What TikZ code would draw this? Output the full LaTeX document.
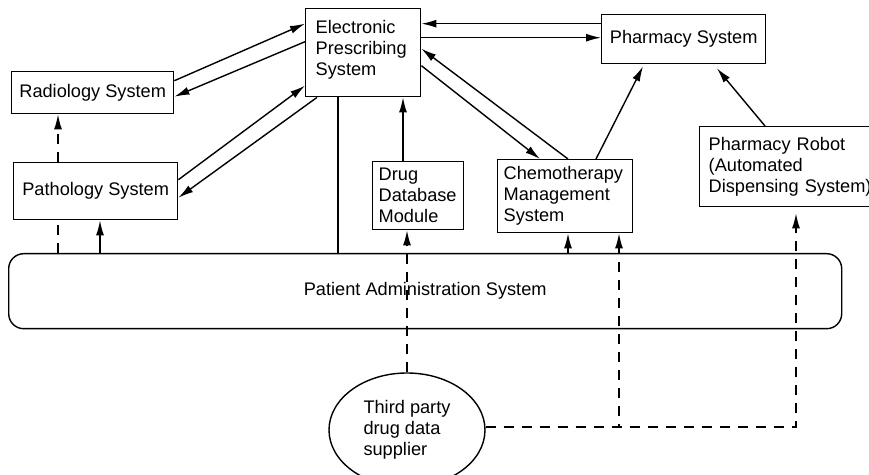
\documentclass[tikz,border=0pt]{standalone}
\usepackage{fontspec}
\setmainfont{Liberation Sans}
\usetikzlibrary{calc,arrows.meta,shapes.geometric}
\tikzset{>={Latex[length=7.5pt,width=4pt]}}
\tikzset{sysbox/.style={draw,line width=0.7pt,inner xsep=3pt,inner ysep=0pt,anchor=north west,font=\fontsize{9.1}{10.5}\selectfont},
  dashline/.style={dash pattern=on 5pt off 4pt}}

\begin{document}
\begin{tikzpicture}[x=0.5pt,y=-0.5pt,line width=0.7pt]
\useasboundingbox (0,0) rectangle (869,475);
% systems
\node[sysbox,text width=47.5pt,inner xsep=5pt,minimum height=44pt,align=left] (eps) at (305,8) {Electronic\\Prescribing\\System\\[-6pt]\mbox{}};
\node[sysbox,minimum width=81pt,minimum height=21pt] (rad) at (11,71) {Radiology System};
\node[sysbox,minimum width=82pt,minimum height=28.5pt] (path) at (13,162) {Pathology System};
\node[sysbox,text width=39.5pt,minimum height=34pt,align=left] (drug) at (372,161) {Drug\\Database\\Module};
\node[sysbox,minimum width=82pt,minimum height=24.5pt] (pharm) at (601,14) {Pharmacy System};
\node[sysbox,text width=61.5pt,minimum height=36.5pt,align=left] (chemo) at (497,159) {Chemotherapy\\Management\\System};
\node[sysbox,text width=82pt,inner xsep=4.5pt,minimum height=40pt,align=left] (robot) at (699,126) {Pharmacy Robot\\(Automated\\Dispensing System)};
\node[sysbox,rounded corners=7.5pt,minimum width=416.5pt,minimum height=37.5pt] (pas) at (8,253) {Patient Administration System};
\node[draw,ellipse,line width=0.7pt,minimum width=78pt,minimum height=57pt,inner sep=0pt,align=left,font=\fontsize{9.1}{10.5}\selectfont] (sup) at (407,430) {Third party\\drug data\\supplier};

% messages
\draw[->] ($(rad.east)+(0,-12)$) -- ($(eps.west)+(0,-29)$);
\draw[->] ($(eps.west)+(0,-11)$) -- ($(rad.east)+(0,4)$);
\draw[->] ($(path.east)+(0,-11.5)$) -- ($(eps.west)+(0,33)$);
\draw[->] ($(eps.south west)+(12,0)$) -- ($(path.east)+(0,6.5)$);
\draw[dashline,->] ($(path.north west)+(45,0)$) -- ($(rad.south west)+(47,0)$);
\draw[dashline] ($(pas.north west)+(50,0)$) -- ($(path.south west)+(45,0)$);
\draw[->] ($(pas.north west)+(92,0)$) -- ($(path.south west)+(87,0)$);
\draw ($(eps.south west)+(33,0)$) -- ($(pas.north west)+(330,0)$);
\draw[->] ($(drug.north west)+(31,0)$) -- ($(eps.south west)+(98,0)$);
\draw[->] ($(pharm.west)+(0,-15.5)$) -- ($(eps.east)+(0,-29)$);
\draw[->] ($(eps.east)+(0,-15)$) -- ($(pharm.west)+(0,-1.5)$);
\draw[->] ($(chemo.north west)+(71,0)$) -- ($(eps.east)+(0,-4)$);
\draw[->] ($(eps.east)+(0,13)$) -- ($(chemo.north west)+(43,0)$);
\draw[->] ($(chemo.north west)+(99,0)$) -- ($(pharm.south west)+(42,2)$);
\draw[->] ($(robot.north west)+(66,0)$) -- ($(pharm.south west)+(116,4)$);
\draw[->] ($(pas.north west)+(560,0)$) -- ($(chemo.south west)+(71,0)$);

% third party feed
\draw[dashline,->] (sup.north) -- (sup.north |- drug.south);
\draw[dashline,->] ($(sup.east)+(0,-3)$) -| ($(chemo.south west)+(122,0)$);
\draw[dashline,->] ($(sup.east)+(0,-3)$) -| ($(robot.south west)+(97,6)$);
\end{tikzpicture}
\end{document}
